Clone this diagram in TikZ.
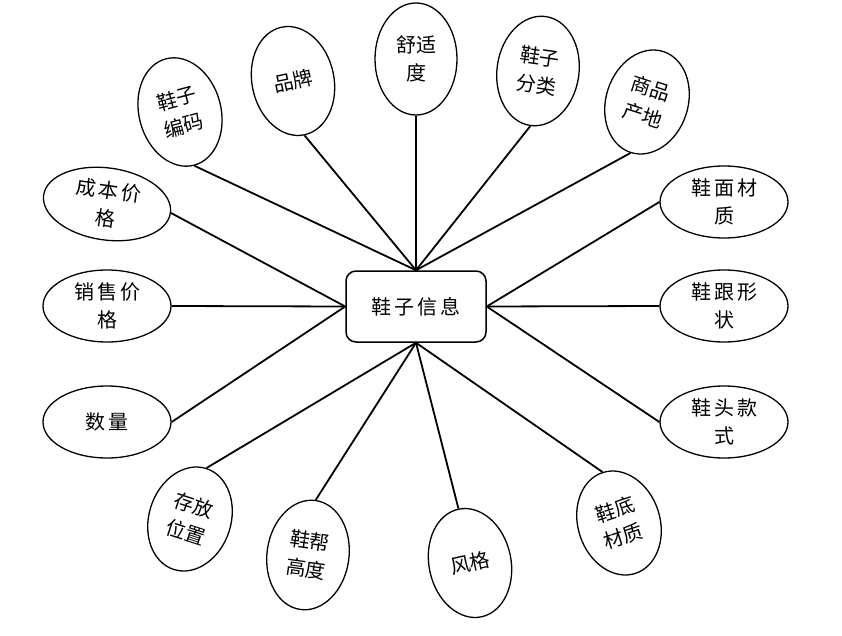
\documentclass[tikz,border=0pt]{standalone}
\usepackage{fontspec}
\newfontfamily\cjk{Noto Sans CJK SC}
\newfontfamily\cjkw[LetterSpace=15]{Noto Sans CJK SC}
\usetikzlibrary{shapes.geometric}
\tikzset{
  attr/.style={draw, ellipse, line width=1.3pt, inner sep=0pt},
  attrtext/.style={font=\cjk\fontsize{20}{28}\selectfont, align=center, inner sep=0pt},
  attrwide/.style={font=\cjkw\fontsize{20}{28}\selectfont, align=center, inner sep=0pt},
  vbox/.style={attr, minimum width=82pt, minimum height=110pt},
  hbox/.style={attr, minimum width=128pt, minimum height=72pt},
  link/.style={line width=1.8pt},
  center/.style={draw, line width=1.5pt, rounded corners=10pt, minimum width=140pt, minimum height=71pt, font=\cjkw\fontsize{20}{28}\selectfont}
}
\begin{document}
\begin{tikzpicture}[x=1pt,y=-1pt]
\useasboundingbox (0,0) rectangle (842,636);
\node[center] (c) at (416,306.5) {鞋子信息};
% top
\node[vbox, rotate=15] (e1) at (180,112) {};
\node[attrtext, rotate=15] (t1) at (e1.center) {鞋子\\编码};
\node[vbox, rotate=12] (e2) at (293,81) {};
\node[attrtext, rotate=12] (t2) at (e2.center) {品牌};
\node[vbox, minimum height=112pt] (e3) at (416,59) {};
\node[attrtext] (t3) at (e3.center) {舒适\\度};
\node[vbox, rotate=-8] (e4) at (538,71) {};
\node[attrtext, rotate=-8] (t4) at (e4.center) {鞋子\\分类};
\node[vbox, rotate=-18, minimum height=106pt] (e5) at (647,102) {};
\node[attrtext, rotate=-18] (t5) at (e5.center) {商品\\产地};
% left
\node[hbox, rotate=-8] (e6) at (107,204) {};
\node[attrwide, rotate=-8] (t6) at (e6.center) {成本价\\格};
\node[hbox] (e7) at (107,306) {};
\node[attrwide] (t7) at (e7.center) {销售价\\格};
\node[hbox] (e8) at (107,422) {};
\node[attrwide] (t8) at (e8.center) {数量};
% right
\node[hbox] (e9) at (724,202) {};
\node[attrwide] (t9) at (e9.center) {鞋面材\\质};
\node[hbox] (e10) at (724,306) {};
\node[attrwide] (t10) at (e10.center) {鞋跟形\\状};
\node[hbox] (e11) at (724,422) {};
\node[attrwide] (t11) at (e11.center) {鞋头款\\式};
% bottom
\node[vbox, rotate=-18, minimum height=106pt] (e12) at (190,519) {};
\node[attrtext, rotate=-18] (t12) at (e12.center) {存放\\位置};
\node[vbox, rotate=-8] (e13) at (308,555) {};
\node[attrtext, rotate=-8] (t13) at (e13.center) {鞋帮\\高度};
\node[vbox, rotate=12] (e14) at (470,563) {};
\node[attrtext, rotate=12] (t14) at (e14.center) {风格};
\node[vbox, rotate=18, minimum height=106pt] (e15) at (619,523) {};
\node[attrtext, rotate=18] (t15) at (e15.center) {鞋底\\材质};
% links
\foreach \n in {e1,e2,e3,e4,e5} \draw[link] (\n.south) -- (c.north);
\foreach \n in {e6,e7,e8} \draw[link] (\n.east) -- (c.west);
\foreach \n in {e9,e10,e11} \draw[link] (\n.west) -- (c.east);
\foreach \n in {e12,e13,e14,e15} \draw[link] (\n.north) -- (c.south);
\end{tikzpicture}
\end{document}
